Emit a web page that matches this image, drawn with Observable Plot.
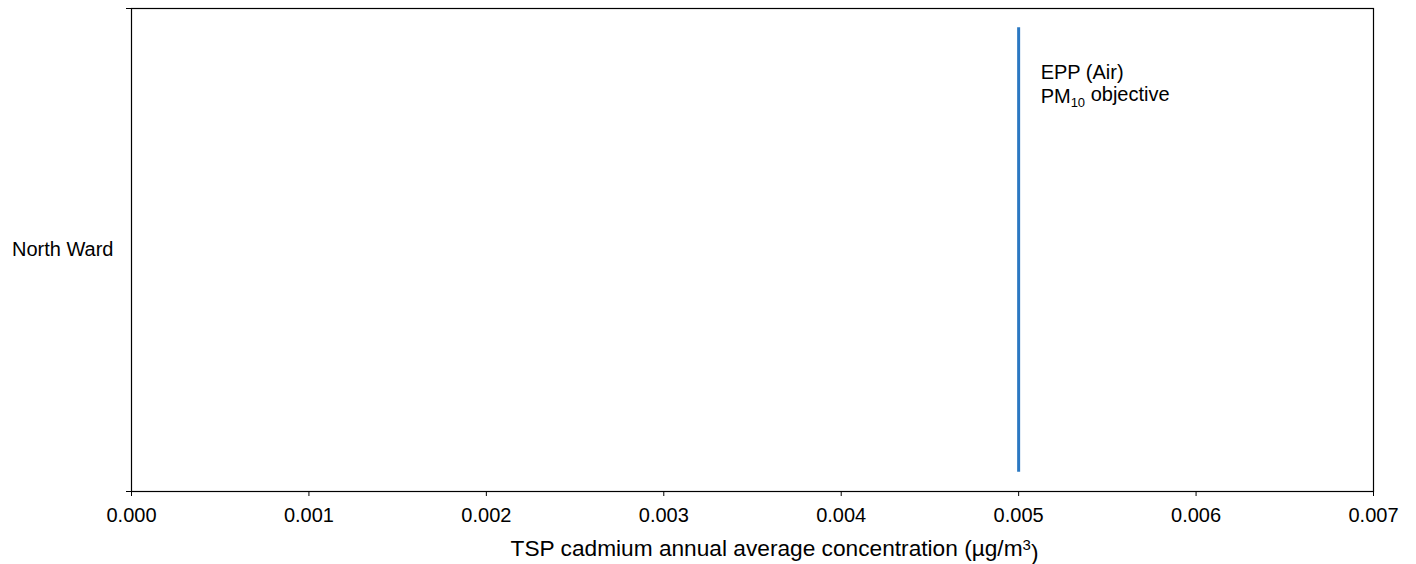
<!DOCTYPE html>
<html>
<head>
<meta charset="utf-8">
<script src="https://cdn.jsdelivr.net/npm/d3@7"></script>
<script src="https://cdn.jsdelivr.net/npm/@observablehq/plot@0.6"></script>
<style>
  html, body { margin: 0; padding: 0; background: #fff; }
  svg { font-family: "Liberation Sans", Arial, sans-serif; }
</style>
</head>
<body>
<div id="chart"></div>
<script>
const categories = ["North Ward"];
const xTicks = [0, 0.001, 0.002, 0.003, 0.004, 0.005, 0.006, 0.007];
const objectiveValue = [0.005];
const objectiveLabel = ["EPP (Air)", "PM10 objective"];
const xLabel = "TSP cadmium annual average concentration (µg/m3)";

const W = 1416, H = 564;
const plot = Plot.plot({
  width: W,
  height: H,
  marginLeft: 131,
  marginRight: 43,
  marginTop: 8,
  marginBottom: 73,
  style: {fontFamily: "'Liberation Sans', Arial, sans-serif", fontSize: "20px", color: "#000", background: "#fff"},
  x: {domain: [0, 0.007], label: null},
  y: {domain: [-0.5, 0.5], label: null},
  marks: [
    Plot.frame({stroke: "#000", strokeWidth: 1.2}),
    Plot.axisX({ticks: xTicks, tickFormat: d3.format(".3f"), tickSize: 5, tickPadding: 11, fontSize: 20, label: null, stroke: "#000"}),
    Plot.axisY({ticks: [-0.5, 0.5], tickFormat: () => "", tickSize: 5, label: null}),
    Plot.axisY({ticks: [0], tickFormat: () => categories[0], tickSize: 0, tickPadding: 18, fontSize: 20, label: null}),
    Plot.ruleX(objectiveValue, {x: d => d, y1: -0.46, y2: 0.46, stroke: "#2b78c2", strokeWidth: 3}),
    Plot.text(objectiveLabel, {x: () => objectiveValue[0], y: (d, i) => [0.368, 0.3175][i], text: d => d, textAnchor: "start", lineAnchor: "middle", dx: 22, fontSize: 20, fill: "#000", className: "objlabel"}),
    Plot.text([xLabel], {x: 0.0035, y: -0.5, text: d => d, dx: 22, dy: 57.5, textAnchor: "middle", lineAnchor: "middle", fontSize: 22.7, fill: "#000", className: "xlabel"})
  ]
});
document.getElementById("chart").appendChild(plot);

// subscript / superscript formatting
const svg = d3.select(plot);
svg.selectAll(".objlabel text").each(function() {
  const t = d3.select(this);
  const s = t.text();
  if (s.startsWith("PM10")) {
    t.text(null);
    t.append("tspan").text("PM");
    t.append("tspan").attr("dy", "0.3em").attr("font-size", "13px").text("10");
    t.append("tspan").attr("dy", "-0.3em").text(" objective");
  }
});
svg.selectAll(".xlabel text").each(function() {
  const t = d3.select(this);
  t.text(null);
  t.append("tspan").text("TSP cadmium annual average concentration (µg/m");
  t.append("tspan").attr("dy", "-0.45em").attr("font-size", "15px").text("3");
  t.append("tspan").attr("dy", "0.45em").text(")");
});
</script>
</body>
</html>
